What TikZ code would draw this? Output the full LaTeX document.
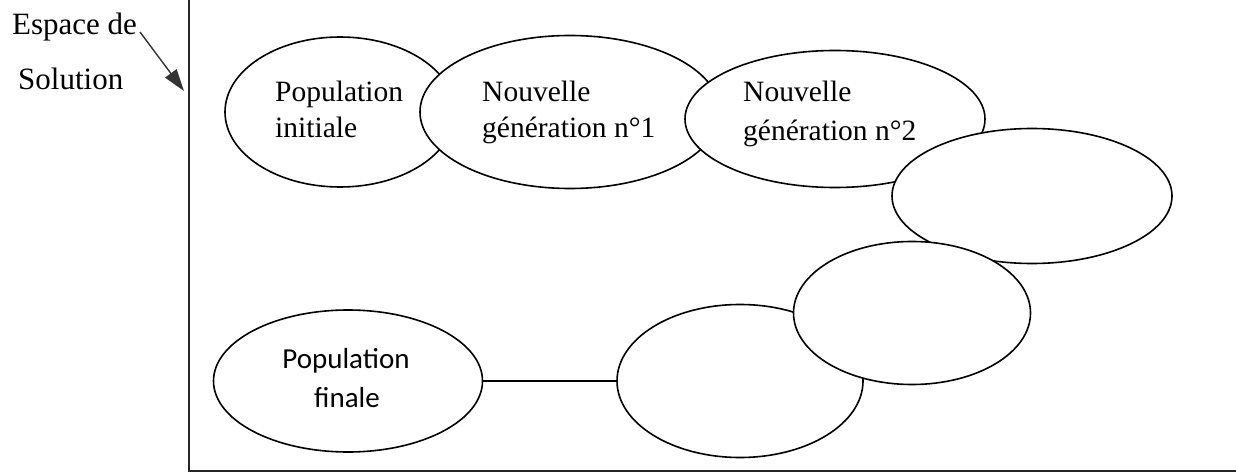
\documentclass[tikz,border=0pt]{standalone}
\usepackage{fontspec}
\setmainfont{Liberation Serif}
\newfontfamily\calib{Carlito}
\usetikzlibrary{shapes.geometric,arrows.meta}
\begin{document}
\begin{tikzpicture}[x=1pt,y=-1pt,
  pop/.style={ellipse,draw=black,line width=1.6pt,fill=white,inner sep=0pt},
  txt/.style={anchor=base west,inner sep=0pt,font=\fontsize{29.5}{36}\selectfont},
  sanstxt/.style={anchor=base,inner sep=0pt,font=\calib\fontsize{29}{36}\selectfont},
  side/.style={anchor=base west,inner sep=0pt,font=\fontsize{31}{38}\selectfont},
  frameline/.style={draw=black!85,line width=1.4pt},
  conn/.style={draw=black,line width=1.6pt}]
\useasboundingbox (0,0) rectangle (1236,473);
% frame
\coordinate (ftop) at (189,0);
\coordinate (fcorner) at (189,471);
\coordinate (fright) at (1236,471);
\draw[frameline] (ftop) -- (fcorner) -- (fright);
% ellipses
\node[pop,minimum width=230pt,minimum height=150pt] (e1) at (340,112) {};
\node[pop,minimum width=300pt,minimum height=153pt] (e2) at (570,112) {};
\node[pop,minimum width=300pt,minimum height=137pt] (e3) at (835,119) {};
\node[pop,minimum width=280pt,minimum height=135pt] (e4) at (1032,196) {};
\node[pop,minimum width=246pt,minimum height=153pt] (e6) at (740,381) {};
\node[pop,minimum width=237pt,minimum height=143pt] (e5) at (912,313) {};
\node[pop,minimum width=269pt,minimum height=142pt] (e7) at (348,381) {};
\draw[conn] (e7.east) -- (e6.west);
% texts
\node[txt] (t1a) at (275,102) {Population};
\node[txt] (t1b) at (275,138) {initiale};
\node[txt] (t2a) at (482,102) {Nouvelle};
\node[txt] (t2b) at (482,138) {génération n°1};
\node[txt] (t3a) at (743,102) {Nouvelle};
\node[txt] (t3b) at (743,141) {génération n°2};
\node[sanstxt] (t7a) at (346,368) {Population};
\node[sanstxt] (t7b) at (347,407) {finale};
% side label
\node[side] (esp) at (12,35) {Espace de};
\node[side] (sol) at (18,90) {Solution};
\coordinate (arrs) at (140,32);
\coordinate (arre) at (184,91);
\draw[draw=black!80,line width=1.4pt,-{Triangle[length=22pt,width=14pt]}] (arrs) -- (arre);
\end{tikzpicture}
\end{document}
